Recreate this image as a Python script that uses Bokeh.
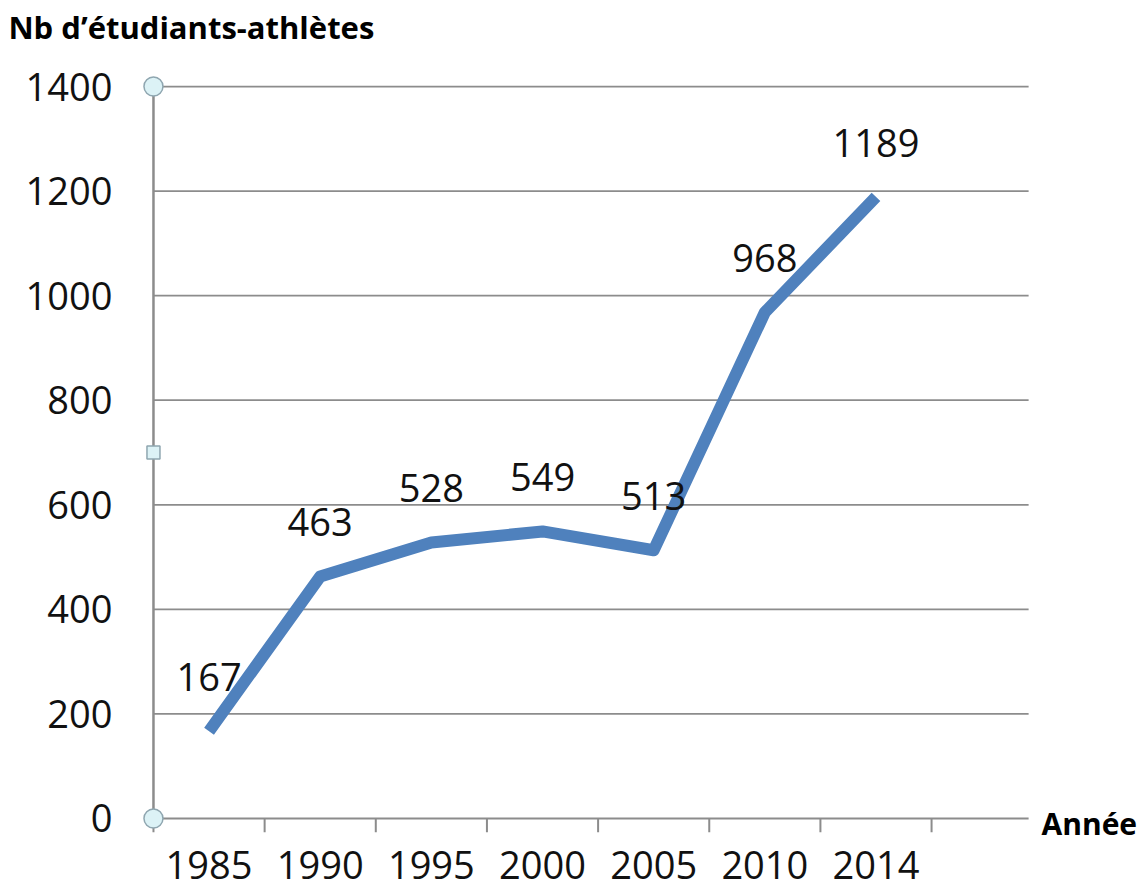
from bokeh.plotting import figure
from bokeh.models import FixedTicker, Range1d, LinearAxis
from bokeh.embed import file_html
from bokeh.resources import INLINE
from bokeh.core.properties import value

# ---- data ----
years = ["1985", "1990", "1995", "2000", "2005", "2010", "2014"]
athletes = [167, 463, 528, 549, 513, 968, 1189]
y_ticks = [0, 200, 400, 600, 800, 1000, 1200, 1400]
y_title = "Nb d’étudiants-athlètes"
x_title = "Année"

# ---- style ----
FONT = "Open Sans"
LINE_BLUE = "#4F81BD"
GRID = "#8c8c8c"
HANDLE_FILL = "#dcf2f6"
HANDLE_LINE = "#8fa6b0"

n = len(years)
xc = [i + 0.5 for i in range(n)]          # category centres
bounds = list(range(n + 1))                # category boundaries (tick marks)
X_END = n + 0.873                          # axis end (partial extra slot)
Y_MAX = y_ticks[-1]
Y_START = -26.8
TITLE_X = 0.341                            # centre of the value-axis title
XTITLE_Y = -10                             # level of the category-axis title

p = figure(width=1140, height=890, output_backend="svg", toolbar_location=None,
           x_range=Range1d(-0.0987, 7.89), y_range=Range1d(Y_START, 1423),
           min_border_left=142, min_border_right=108,
           min_border_top=74, min_border_bottom=58)
p.title = None
p.outline_line_color = None
p.background_fill_color = "white"
p.border_fill_color = "white"
p.grid.visible = False

bottom_axis = p.below[0]
left_axis = p.left[0]

# x axis: labels at category centres
bottom_axis.ticker = FixedTicker(ticks=xc)
bottom_axis.major_label_overrides = {c: y for c, y in zip(xc, years)}
bottom_axis.axis_line_color = None
bottom_axis.major_tick_line_color = None
bottom_axis.minor_tick_line_color = None
bottom_axis.major_tick_out = 0
bottom_axis.major_tick_in = 0
bottom_axis.major_label_standoff = 18
bottom_axis.major_label_text_font = FONT
bottom_axis.major_label_text_font_size = "38px"
bottom_axis.major_label_text_color = "#111111"

# y axis
left_axis.ticker = FixedTicker(ticks=y_ticks)
left_axis.axis_line_color = None
left_axis.major_tick_line_color = None
left_axis.minor_tick_line_color = None
left_axis.major_tick_out = 0
left_axis.major_tick_in = 0
left_axis.major_label_standoff = 30
left_axis.major_label_text_font = FONT
left_axis.major_label_text_font_size = "38px"
left_axis.major_label_text_color = "#111111"

# value-axis title, top left (an "above" axis carrying one label)
top = LinearAxis(ticker=FixedTicker(ticks=[TITLE_X]),
                 major_label_overrides={TITLE_X: y_title})
top.axis_line_color = None
top.major_tick_line_color = None
top.minor_tick_line_color = None
top.major_tick_out = 0
top.major_tick_in = 0
top.major_label_standoff = 27
top.major_label_text_font = FONT
top.major_label_text_font_size = "31px"
top.major_label_text_font_style = "bold"
top.major_label_text_color = "black"
p.add_layout(top, "above")

# category-axis title on the right, level with the axis
right = LinearAxis(ticker=FixedTicker(ticks=[XTITLE_Y]),
                   major_label_overrides={XTITLE_Y: x_title})
right.axis_line_color = None
right.major_tick_line_color = None
right.minor_tick_line_color = None
right.major_tick_out = 0
right.major_tick_in = 0
right.major_label_standoff = 11
right.major_label_text_font = FONT
right.major_label_text_font_size = "30px"
right.major_label_text_font_style = "bold"
right.major_label_text_color = "black"
p.add_layout(right, "right")

# gridlines (from the value axis to the end of the category axis)
p.segment(x0=[0] * len(y_ticks), y0=y_ticks, x1=[X_END] * len(y_ticks), y1=y_ticks,
          line_color=GRID, line_width=1.8)
# value axis line
p.segment(x0=[0], y0=[0], x1=[0], y1=[Y_MAX], line_color=GRID, line_width=2.5)
# category tick marks
p.segment(x0=bounds, y0=[0] * len(bounds), x1=bounds, y1=[Y_START] * len(bounds),
          line_color=GRID, line_width=2)

# data line
p.line(xc, athletes, line_width=12, line_color=LINE_BLUE, line_join="round")

# data labels
p.text(x=xc, y=athletes, text=[str(v) for v in athletes],
       text_font=value(FONT), text_font_size="38px", text_color="#111111",
       text_align="center", text_baseline="alphabetic", y_offset=-54)

# selection handles on the value axis
p.scatter([0, 0], [0, Y_MAX], marker="circle", size=19,
          fill_color=HANDLE_FILL, line_color=HANDLE_LINE, line_width=1.5)
p.scatter([0], [Y_MAX / 2], marker="square", size=13,
          fill_color=HANDLE_FILL, line_color=HANDLE_LINE, line_width=1.5)

open("out.html", "w").write(file_html(p, INLINE))
